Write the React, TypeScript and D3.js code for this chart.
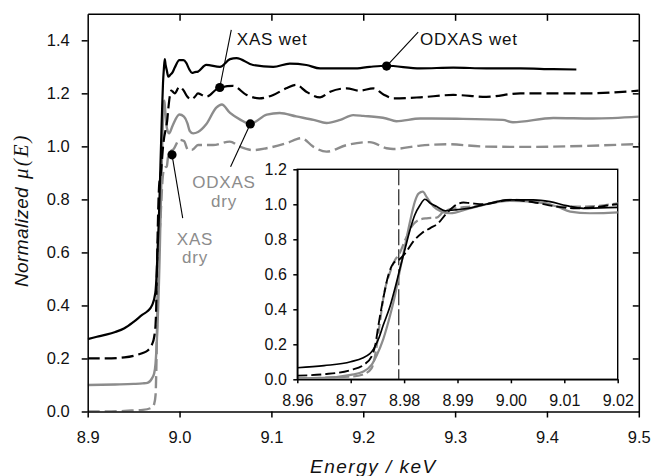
import React, { useEffect, useRef } from "react";
import * as d3 from "d3";

type Pt = [number, number];

// normalized mu(E) vs energy (keV); offsets applied in the main plot only
const odxasWet: Pt[] = [
  [8.9, -0.027], [8.91, -0.018], [8.92, -0.01], [8.93, 0.0], [8.94, 0.014], [8.95, 0.038],
  [8.96, 0.066], [8.965, 0.078], [8.97, 0.1], [8.9736, 0.147], [8.9752, 0.23], [8.9761, 0.31],
  [8.9774, 0.42], [8.9783, 0.52], [8.9792, 0.63], [8.9802, 0.748], [8.9811, 0.853], [8.982, 0.939],
  [8.983, 0.996], [8.9839, 1.029], [8.9849, 1.006], [8.9861, 0.987], [8.9877, 0.963], [8.99, 0.97],
  [8.9925, 0.98], [8.9948, 0.997], [8.9998, 1.025], [9.0042, 1.025], [9.0073, 1.015], [9.0104, 0.992],
  [9.0136, 0.977], [9.0167, 0.98], [9.0201, 0.982], [9.029, 1.007], [9.044, 1.0], [9.055, 1.029],
  [9.062, 1.033], [9.08, 1.007], [9.102, 1.0], [9.12, 1.012], [9.138, 1.007], [9.153, 0.994],
  [9.189, 0.994], [9.207, 1.0], [9.225, 1.004], [9.262, 0.994], [9.298, 0.997], [9.334, 0.994],
  [9.371, 0.994], [9.407, 0.991], [9.432, 0.99],
];

const xasWet: Pt[] = [
  [8.9, 0.0], [8.92, 0.0], [8.94, 0.004], [8.95, 0.01],
  [8.96, 0.021], [8.965, 0.029], [8.97, 0.053], [8.9724, 0.082], [8.9739, 0.13], [8.9746, 0.196],
  [8.9752, 0.31], [8.9761, 0.463], [8.9771, 0.6], [8.978, 0.663], [8.979, 0.682], [8.9802, 0.72],
  [8.9817, 0.787], [8.9833, 0.835], [8.9849, 0.864], [8.9864, 0.892], [8.9877, 0.94], [8.9892, 0.985],
  [8.9911, 1.01], [8.9923, 1.007], [8.9948, 1.0], [8.9998, 1.025], [9.0042, 1.012], [9.0086, 0.987],
  [9.0123, 0.977], [9.0167, 0.987], [9.0201, 1.0], [9.029, 0.987], [9.042, 1.019], [9.058, 1.028],
  [9.073, 0.994], [9.087, 0.981], [9.102, 0.994], [9.116, 1.019], [9.127, 1.032], [9.138, 1.006],
  [9.153, 0.985], [9.164, 1.006], [9.182, 1.019], [9.196, 1.01], [9.211, 1.019], [9.222, 0.996],
  [9.233, 0.981], [9.262, 0.985], [9.298, 0.994], [9.334, 0.987], [9.371, 1.0], [9.443, 1.0],
  [9.5, 1.01],
];

const odxasDry: Pt[] = [
  [8.9, 0.0], [8.93, 0.002], [8.95, 0.004],
  [8.96, 0.006], [8.965, 0.008], [8.97, 0.025], [8.9724, 0.044], [8.9739, 0.082], [8.9749, 0.139],
  [8.9761, 0.23], [8.9774, 0.367], [8.9783, 0.48], [8.9792, 0.62], [8.9802, 0.767], [8.9811, 0.9],
  [8.982, 1.014], [8.9827, 1.061], [8.9835, 1.072], [8.9842, 1.043], [8.9855, 0.987], [8.987, 0.958],
  [8.9886, 0.949], [8.9923, 0.977], [8.9998, 1.02], [9.0048, 1.012], [9.0086, 0.987], [9.0111, 0.958],
  [9.0148, 0.949], [9.0201, 0.954], [9.029, 0.983], [9.04, 1.046], [9.046, 1.058], [9.055, 1.026],
  [9.066, 1.001], [9.077, 0.985], [9.095, 1.02], [9.109, 1.026], [9.127, 1.013], [9.146, 1.0],
  [9.16, 0.988], [9.175, 1.0], [9.189, 1.018], [9.2, 1.015], [9.225, 1.005], [9.236, 0.995],
  [9.262, 1.005], [9.302, 1.004], [9.352, 1.0], [9.363, 0.991], [9.407, 1.007], [9.45, 1.005],
  [9.5, 1.012],
];

const xasDry: Pt[] = [
  [8.9, 0.0], [8.92, 0.0], [8.94, 0.002], [8.95, 0.004],
  [8.96, 0.006], [8.97, 0.015], [8.9724, 0.029], [8.9739, 0.063], [8.9747, 0.158], [8.9754, 0.31],
  [8.9762, 0.48], [8.9774, 0.615], [8.9783, 0.682], [8.979, 0.71], [8.9802, 0.796], [8.9814, 0.872],
  [8.9827, 0.91], [8.9842, 0.92], [8.9861, 0.924], [8.9874, 0.958], [8.9898, 0.978], [8.9936, 0.99],
  [8.9998, 1.025], [9.0048, 1.02], [9.0092, 0.987], [9.0136, 0.987], [9.0201, 1.005], [9.0365, 1.005],
  [9.0547, 1.018], [9.0656, 0.999], [9.08, 0.986], [9.0947, 0.993], [9.1164, 1.012], [9.1328, 1.031],
  [9.1455, 0.999], [9.16, 0.98], [9.182, 1.005], [9.207, 1.016], [9.2254, 0.993], [9.2326, 0.99],
  [9.262, 1.003], [9.291, 1.008], [9.334, 0.999], [9.38, 0.998], [9.407, 0.999], [9.5, 1.009],
];

const seriesOffsets = [0, 0.1, 0.2, 0.3]; // XAS dry, ODXAS dry, XAS wet, ODXAS wet

const mainXTicks = [8.9, 9.0, 9.1, 9.2, 9.3, 9.4, 9.5];
const mainYTicks = [0, 0.2, 0.4, 0.6, 0.8, 1.0, 1.2, 1.4];
const insetXTicks = [8.96, 8.97, 8.98, 8.99, 9.0, 9.01, 9.02];
const insetYTicks = [0, 0.2, 0.4, 0.6, 0.8, 1.0, 1.2];
const edgeEnergy = 8.979;

// annotation markers (main plot coordinates)
const markerNames = [["XAS wet"], ["ODXAS wet"], ["ODXAS", "dry"], ["XAS", "dry"]];
const markerEnergy = [9.0438, 9.2254, 9.077, 8.9918];
const markerValue = [1.222, 1.303, 1.0845, 0.968];

const W = 653;
const H = 476;
const SANS = "'Liberation Sans', Arial, Helvetica, sans-serif";
const GRAY = "#8c8c8c";

function draw(node: SVGSVGElement) {
  const svg = d3.select(node);
  svg.selectAll("*").remove();

  const x = d3.scaleLinear().domain([8.9, 9.5]).range([87.7, 638.8]);
  const y = d3.scaleLinear().domain([0, 1.5]).range([411.5, 13.8]);
  const xi = d3.scaleLinear().domain([8.96, 9.02]).range([297.3, 617.7]);
  const yi = d3.scaleLinear().domain([0, 1.2]).range([379.3, 169.3]);

  const defs = svg.append("defs");
  defs.append("clipPath").attr("id", "clipMain").append("rect")
    .attr("x", x(8.9)).attr("y", y(1.5)).attr("width", x(9.5) - x(8.9)).attr("height", y(0) - y(1.5));
  defs.append("clipPath").attr("id", "clipInset").append("rect")
    .attr("x", xi(8.96)).attr("y", yi(1.2)).attr("width", xi(9.02) - xi(8.96)).attr("height", yi(0) - yi(1.2));

  const styles = [
    { data: xasDry, color: GRAY, dash: "12 5", insetDash: "10 4", w: 2.4, wi: 2.2 },
    { data: odxasDry, color: GRAY, dash: null, insetDash: null, w: 2.4, wi: 2.2 },
    { data: xasWet, color: "#000", dash: "12 5", insetDash: "10 4", w: 2.2, wi: 1.9 },
    { data: odxasWet, color: "#000", dash: null, insetDash: null, w: 2.2, wi: 1.7 },
  ];

  // main curves
  const gMain = svg.append("g").attr("clip-path", "url(#clipMain)");
  styles.forEach((s, i) => {
    const off = seriesOffsets[i];
    const line = d3.line<Pt>().x((d) => x(d[0])).y((d) => y(d[1] + off)).curve(d3.curveMonotoneX);
    gMain.append("path").datum(s.data)
      .attr("d", line).attr("fill", "none").attr("stroke", s.color)
      .attr("stroke-width", s.w).attr("stroke-linejoin", "round")
      .attr("stroke-dasharray", s.dash);
  });

  const styleAxis = (g: any, size: number) => {
    g.select(".domain").attr("stroke", "#000").attr("stroke-width", 1.5);
    g.selectAll(".tick line").attr("stroke", "#000").attr("stroke-width", 1.5);
    g.selectAll(".tick text").attr("font-family", SANS).attr("font-size", size).attr("fill", "#111");
  };
  const fmt1 = d3.format(".1f");
  const fmt2 = d3.format(".2f");

  // main axes
  const gx = svg.append("g").attr("transform", `translate(0,${y(0)})`)
    .call(d3.axisBottom(x).tickValues(mainXTicks).tickFormat(fmt1 as any).tickSizeInner(6).tickSizeOuter(0).tickPadding(14));
  styleAxis(gx, 16.5);
  const gy = svg.append("g").attr("transform", `translate(${x(8.9)},0)`)
    .call(d3.axisLeft(y).tickValues(mainYTicks).tickFormat(fmt1 as any).tickSizeInner(6).tickSizeOuter(0).tickPadding(12));
  styleAxis(gy, 16.5);
  const gt = svg.append("g").attr("transform", `translate(0,${y(1.5)})`)
    .call(d3.axisTop(x).tickValues(mainXTicks.slice(1, -1)).tickFormat(() => "").tickSizeInner(-7).tickSizeOuter(0));
  styleAxis(gt, 16);
  const gr = svg.append("g").attr("transform", `translate(${x(9.5)},0)`)
    .call(d3.axisRight(y).tickValues(mainYTicks.slice(1)).tickFormat(() => "").tickSizeInner(-6).tickSizeOuter(0));
  styleAxis(gr, 16);

  // axis titles
  svg.append("text").attr("x", 310).attr("y", 472.5)
    .attr("font-family", SANS).attr("font-size", 19).attr("font-style", "italic")
    .attr("letter-spacing", 1.5).attr("fill", "#111").text("Energy / keV");
  const yl = svg.append("text").attr("transform", "translate(27.5,287) rotate(-90)")
    .attr("font-family", SANS).attr("font-size", 19).attr("font-style", "italic")
    .attr("letter-spacing", 0.4).attr("fill", "#111");
  yl.append("tspan").text("Normalized");
  yl.append("tspan").attr("dx", 8).attr("font-family", "'Liberation Serif', 'Times New Roman', serif")
    .attr("font-size", 21).attr("letter-spacing", 2).text("\u03bc(E)");

  // annotations
  const leader: Pt[] = [[11.5, -57.6], [31.6, -34], [-19.7, 42.7], [10.7, 63.3]];
  const labelPos: Pt[] = [[17, -42.6], [33.3, -20.7], [-26.3, 64.3], [23, 90]];
  const labelAnchor = ["start", "start", "middle", "middle"];
  const labelColor = ["#111", "#111", GRAY, GRAY];
  markerNames.forEach((lines, i) => {
    const px = x(markerEnergy[i]);
    const py = y(markerValue[i]);
    svg.append("line").attr("x1", px).attr("y1", py)
      .attr("x2", px + leader[i][0]).attr("y2", py + leader[i][1])
      .attr("stroke", "#000").attr("stroke-width", 1.1);
    svg.append("circle").attr("cx", px).attr("cy", py).attr("r", 4.6).attr("fill", "#000");
    lines.forEach((t, k) => {
      svg.append("text").attr("x", px + labelPos[i][0]).attr("y", py + labelPos[i][1] + k * 18.5)
        .attr("text-anchor", labelAnchor[i]).attr("font-family", SANS).attr("font-size", 17)
        .attr("letter-spacing", 0.8).attr("fill", labelColor[i]).text(t);
    });
  });

  // inset
  svg.append("rect").attr("x", xi(8.96)).attr("y", yi(1.2))
    .attr("width", xi(9.02) - xi(8.96)).attr("height", yi(0) - yi(1.2))
    .attr("fill", "#fff").attr("stroke", "#000").attr("stroke-width", 1.4);

  const gIn = svg.append("g").attr("clip-path", "url(#clipInset)");
  gIn.append("line").attr("x1", xi(edgeEnergy)).attr("x2", xi(edgeEnergy))
    .attr("y1", yi(1.2)).attr("y2", yi(0))
    .attr("stroke", "#222").attr("stroke-width", 1.2).attr("stroke-dasharray", "16 4");
  styles.forEach((s) => {
    const line = d3.line<Pt>().x((d) => xi(d[0])).y((d) => yi(d[1])).curve(d3.curveMonotoneX);
    gIn.append("path").datum(s.data.filter((d) => d[0] >= 8.955 && d[0] <= 9.03))
      .attr("d", line).attr("fill", "none").attr("stroke", s.color)
      .attr("stroke-width", s.wi).attr("stroke-linejoin", "round")
      .attr("stroke-dasharray", s.insetDash);
  });

  const gxi = svg.append("g").attr("transform", `translate(0,${yi(0)})`)
    .call(d3.axisBottom(xi).tickValues(insetXTicks).tickFormat(fmt2 as any).tickSizeInner(4).tickSizeOuter(0).tickPadding(11.5));
  styleAxis(gxi, 16);
  const gyi = svg.append("g").attr("transform", `translate(${xi(8.96)},0)`)
    .call(d3.axisLeft(yi).tickValues(insetYTicks).tickFormat(fmt1 as any).tickSizeInner(4).tickSizeOuter(0).tickPadding(6.5));
  styleAxis(gyi, 16);
}

export default function App() {
  const ref = useRef<SVGSVGElement>(null);
  useEffect(() => {
    if (ref.current) draw(ref.current);
  }, []);
  return (
    <svg
      ref={ref}
      width={W}
      height={H}
      style={{ position: "absolute", left: 0, top: 0, background: "#fff" }}
    />
  );
}
